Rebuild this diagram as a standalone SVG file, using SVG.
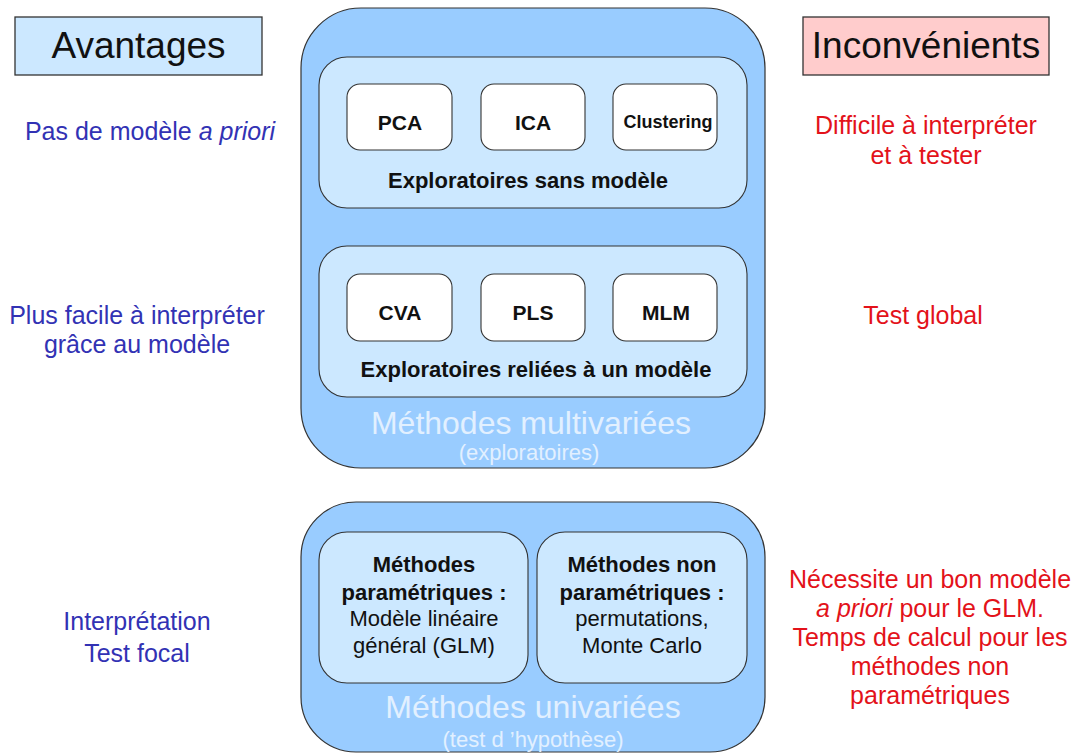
<svg xmlns="http://www.w3.org/2000/svg" width="1078" height="755" viewBox="0 0 1078 755">
<style>
text{font-family:"Liberation Sans",Arial,sans-serif;text-anchor:middle}
.hdr{font-size:37px;fill:#111}
.adv{font-size:25px;fill:#3232b4}
.inc{font-size:25px;fill:#e3121a}
.outer{fill:#99ccff;stroke:#333;stroke-width:1.2}
.inner{fill:#cce8ff;stroke:#333;stroke-width:1.1}
.small{fill:#fff;stroke:#333;stroke-width:1.1}
.lab{font-size:21px;font-weight:bold;fill:#111}
.grp{font-size:22px;font-weight:bold;fill:#111}
.txt{font-size:22px;fill:#111}
.big{font-size:32px;fill:#e2f0ff}
.sub{font-size:22px;fill:#e2f0ff}
</style>
<rect width="1078" height="755" fill="#fff"/>
<g id="avantages"><rect x="15" y="17" width="247" height="58" fill="#cce8ff" stroke="#333" stroke-width="1.3"/><text class="hdr" x="138.5" y="58">Avantages</text></g>
<g id="inconvenients"><rect x="803" y="17" width="246" height="58" fill="#ffcccc" stroke="#333" stroke-width="1.3"/><text class="hdr" x="926" y="58">Inconvénients</text></g>
<g id="adv1"><text class="adv" x="150" y="140">Pas de modèle <tspan font-style="italic">a priori</tspan></text></g>
<g id="adv2"><text class="adv" x="137" y="324">Plus facile à interpréter</text><text class="adv" x="137" y="353">grâce au modèle</text></g>
<g id="adv3"><text class="adv" x="137" y="630">Interprétation</text><text class="adv" x="137" y="662">Test focal</text></g>
<g id="inc1"><text class="inc" x="926" y="134">Difficile à interpréter</text><text class="inc" x="926" y="164">et à tester</text></g>
<g id="inc2"><text class="inc" x="923" y="324">Test global</text></g>
<g id="inc3"><text class="inc" x="930" y="588">Nécessite un bon modèle</text><text class="inc" x="930" y="617"><tspan font-style="italic">a priori</tspan> pour le GLM.</text><text class="inc" x="930" y="646">Temps de calcul pour les</text><text class="inc" x="930" y="675">méthodes non</text><text class="inc" x="930" y="704">paramétriques</text></g>
<g id="multivariees">
<rect class="outer" x="301" y="8" width="464" height="460" rx="60" ry="60"/>
<text class="big" x="531" y="434">Méthodes multivariées</text>
<text class="sub" x="529" y="460">(exploratoires)</text>
</g>
<g id="sans-modele">
<rect class="inner" x="319" y="57" width="428" height="151" rx="28" ry="28"/>
<text class="grp" x="528" y="188">Exploratoires sans modèle</text>
</g>
<g id="pca"><rect class="small" x="347" y="84" width="105" height="66" rx="13" ry="13"/><text class="lab" x="400" y="130">PCA</text></g>
<g id="ica"><rect class="small" x="481" y="84" width="104" height="66" rx="13" ry="13"/><text class="lab" x="533" y="130">ICA</text></g>
<g id="clustering"><rect class="small" x="613" y="84" width="104" height="66" rx="13" ry="13"/><text class="lab" x="668" y="128" style="font-size:18px">Clustering</text></g>
<g id="relie-modele">
<rect class="inner" x="319" y="246" width="428" height="151" rx="28" ry="28"/>
<text class="grp" x="536" y="377">Exploratoires reliées à un modèle</text>
</g>
<g id="cva"><rect class="small" x="347" y="274" width="105" height="67" rx="13" ry="13"/><text class="lab" x="400" y="320">CVA</text></g>
<g id="pls"><rect class="small" x="481" y="274" width="104" height="67" rx="13" ry="13"/><text class="lab" x="533" y="320">PLS</text></g>
<g id="mlm"><rect class="small" x="613" y="274" width="104" height="67" rx="13" ry="13"/><text class="lab" x="666" y="320">MLM</text></g>
<g id="univariees">
<rect class="outer" x="301" y="502" width="464" height="250" rx="55" ry="55"/>
<text class="big" x="533" y="718">Méthodes univariées</text>
<text class="sub" x="533" y="747">(test d ’hypothèse)</text>
</g>
<g id="parametriques">
<rect class="inner" x="319" y="532" width="209" height="151" rx="28" ry="28"/>
<text class="grp" x="424" y="572">Méthodes</text>
<text class="grp" x="424" y="600">paramétriques :</text>
<text class="txt" x="424" y="626">Modèle linéaire</text>
<text class="txt" x="424" y="653">général (GLM)</text>
</g>
<g id="non-parametriques">
<rect class="inner" x="537" y="532" width="210" height="151" rx="28" ry="28"/>
<text class="grp" x="642" y="572">Méthodes non</text>
<text class="grp" x="642" y="600">paramétriques :</text>
<text class="txt" x="642" y="626">permutations,</text>
<text class="txt" x="642" y="653">Monte Carlo</text>
</g>
<g id="connectors"/>
</svg>
